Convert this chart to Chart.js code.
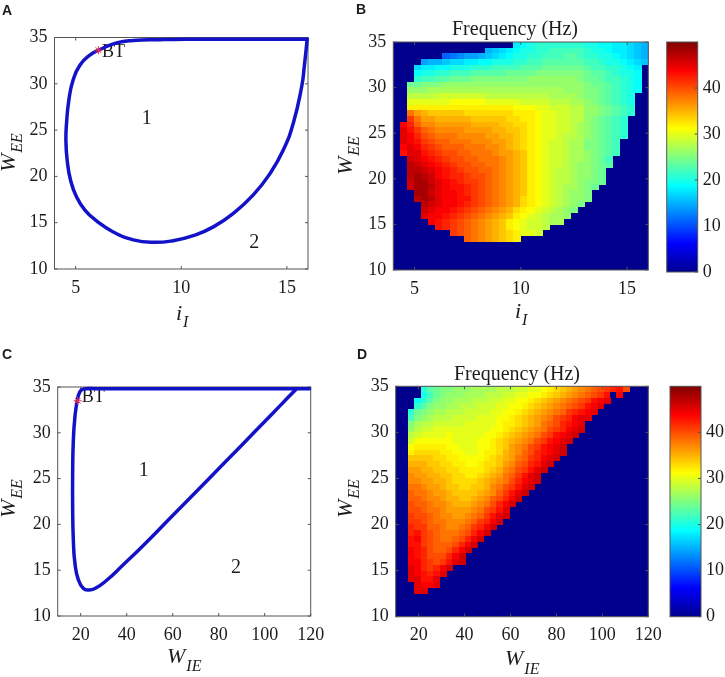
<!DOCTYPE html>
<html>
<head>
<meta charset="utf-8">
<title>Frequency maps</title>
<script src="https://cdn.jsdelivr.net/npm/chart.js@4"></script>
<style>
  html, body { margin: 0; padding: 0; background: #fff; }
  body { position: relative; width: 725px; height: 677px; overflow: hidden; }
  canvas { position: absolute; }
</style>
</head>
<body>
<canvas id="panelA"></canvas>
<canvas id="panelB"></canvas>
<canvas id="barB"></canvas>
<canvas id="panelC"></canvas>
<canvas id="panelD"></canvas>
<canvas id="barD"></canvas>
<script>
// ticks
var iITicks = [5, 10, 15];
var wIETicks = [20, 40, 60, 80, 100, 120];
var wEETicks = [10, 15, 20, 25, 30, 35];
var freqTicks = [0, 10, 20, 30, 40];

// boundary curve, panel A (i_I, W_EE)
var curveAx = [16, 14, 12, 10.5, 9.6, 9, 7.73, 6.94, 6.15, 5.67, 5.2, 4.88, 4.68, 4.57, 4.54, 4.6, 4.76, 5.04, 5.44, 5.99, 6.78, 7.73, 8.67, 9.62, 10.57, 11.52, 12.46, 13.41, 14.2, 14.83, 15.3, 15.7, 15.83, 15.97];
var curveAy = [34.8, 34.8, 34.8, 34.8, 34.79, 34.76, 34.68, 34.42, 33.7, 33.09, 32, 30.4, 28.24, 25.72, 23.92, 21.76, 19.6, 17.8, 16.37, 15.2, 14, 13.15, 12.88, 13.06, 13.6, 14.55, 16, 18, 20.3, 22.84, 25.72, 29.68, 32, 35];

// boundary curve, panel C (W_IE, W_EE)
var curveCx = [120, 90, 60, 35, 26, 22.5, 21.2, 19.7, 18.55, 17.5, 16.8, 16.5, 16.5, 16.8, 17.5, 19, 21.2, 23.3, 26.2, 31.3, 38.5, 47.2, 60, 75, 90, 103, 110, 113.9];
var curveCy = [34.82, 34.82, 34.82, 34.82, 34.82, 34.82, 34.78, 34.5, 33.58, 31.76, 29.2, 25.57, 21.9, 18.3, 15.75, 13.93, 13, 12.84, 13, 13.9, 15.6, 17.7, 20.98, 24.8, 28.65, 32, 33.82, 34.82];

// heatmap grid
var gridRowHeight = 0.625;   // W_EE per row, first row just under 35
var gridColWidthB = 1 / 3;   // i_I per column, from 4
var gridColWidthD = 2.75;    // W_IE per column, from 10

// panel B frequency, first coloured column of each row then its values
var startB = [17, 13, 7, 4, 3, 3, 3, 2, 2, 2, 2, 2, 2, 2, 1, 1, 1, 1, 1, 1, 2, 2, 2, 2, 2, 2, 3, 3, 4, 4, 4, 5, 6, 8, 10];
var freqB = [
  [18,19,20,21,21,21,21,21,21,21,20,20,19,19,18,18,17,16,15],
  [15,16,17,18,19,20,20,21,21,22,22,22,22,22,21,20,20,19,18,18,17,16,15],
  [11,12,13,14,14,15,16,17,18,19,20,20,21,21,22,22,22,23,23,22,21,21,20,20,19,18,17,16,15],
  [14,15,15,16,17,17,18,18,19,19,20,20,20,21,21,22,22,23,23,23,23,23,23,22,22,21,20,20,19,18,17,16],
  [17,18,18,19,19,20,20,20,21,21,21,22,22,22,22,23,23,23,24,24,24,24,24,24,23,22,22,21,21,20,19,18],
  [19,20,20,21,21,22,22,22,23,23,23,23,23,24,24,24,24,25,25,25,25,25,25,25,24,23,23,22,21,20,20,19],
  [21,22,22,23,23,24,24,24,25,25,25,25,25,25,25,25,26,26,26,26,26,26,26,25,24,24,23,22,22,21,20,19],
  [24,24,25,25,25,26,26,26,26,26,26,26,26,26,26,26,26,26,26,26,26,26,26,26,26,25,24,24,23,22,21,20,19],
  [26,26,26,27,27,27,27,27,27,27,27,27,27,27,27,27,27,27,27,27,27,27,26,26,26,25,25,24,23,22,21,20,19],
  [28,28,28,28,29,29,29,29,29,29,29,28,28,28,28,28,28,28,28,28,27,27,27,27,26,25,25,24,23,22,21,20],
  [30,30,30,30,30,30,31,31,31,31,31,30,30,30,30,30,29,29,29,29,28,28,28,27,27,26,25,24,23,22,21,20],
  [32,32,32,32,32,32,32,32,32,32,32,32,32,32,32,31,31,31,30,30,29,29,29,28,28,26,26,25,24,23,22,21],
  [38,36,35,34,34,34,34,34,33,33,33,33,33,33,33,32,32,32,31,30,30,29,29,28,28,26,26,25,24,23,22,21],
  [41,38,36,36,35,35,35,35,35,34,34,34,34,34,33,33,32,32,31,30,30,29,29,28,28,26,25,24,23,22,21],
  [44,42,39,37,37,36,36,36,36,36,35,35,35,35,34,34,33,33,32,31,30,30,29,29,28,27,26,25,24,23,22,21],
  [45,43,41,39,38,37,37,37,37,36,36,36,36,35,35,34,34,33,32,31,30,30,29,29,28,27,26,25,24,23,22,21],
  [45,44,42,40,39,38,38,38,37,37,37,37,36,36,35,35,34,33,32,31,30,30,29,28,28,27,26,25,24,23,22,21],
  [45,44,43,41,40,39,39,38,38,38,37,37,37,36,36,35,34,33,32,31,30,29,29,28,27,27,25,25,24,23,22],
  [44,45,44,42,41,40,39,39,39,38,38,38,37,37,36,35,34,33,32,31,30,29,29,28,27,27,25,25,24,23,22],
  [43,45,45,43,42,41,40,40,39,39,38,38,38,37,36,36,35,34,32,31,30,29,29,28,27,27,26,25,24,23,22],
  [46,45,44,43,42,41,40,40,39,39,38,38,38,37,36,35,34,32,31,30,29,29,28,27,27,26,25,24,22],
  [47,46,45,44,43,42,41,40,40,39,39,38,38,37,36,35,34,32,31,30,29,29,28,27,26,26,25,24,23],
  [47,47,46,45,44,43,42,41,40,40,39,39,38,37,36,35,34,32,31,30,29,28,28,27,26,26,25,24],
  [47,48,47,46,44,43,42,42,41,40,40,39,38,37,36,35,34,32,31,30,29,28,28,27,26,26,25,24],
  [46,48,48,46,45,44,43,42,41,41,40,39,38,37,36,35,34,32,31,30,29,28,28,27,26,25,25,24],
  [46,48,48,47,45,44,43,43,42,41,40,39,38,37,36,35,34,32,31,30,29,28,27,27,26,25,24],
  [48,48,46,45,44,44,43,42,41,40,39,38,37,36,35,34,32,31,30,29,28,27,26,26,25],
  [47,48,47,45,44,44,43,43,41,40,39,38,37,36,35,33,32,31,30,29,28,27,26,26,25],
  [47,46,45,44,44,43,42,41,40,39,38,37,36,35,33,32,31,30,29,28,27,26,25],
  [46,45,44,44,43,42,41,40,39,38,37,36,35,33,32,31,30,29,28,27,26,25],
  [45,44,44,43,42,41,40,39,38,37,36,35,34,32,31,30,29,28,27,27,26],
  [44,43,42,41,40,39,38,37,36,35,34,32,31,30,29,29,28,27,27],
  [43,42,41,40,39,38,37,36,35,34,32,31,30,29,29,28],
  [41,40,39,38,37,36,35,34,33,32,30,30,29],
  [39,38,37,36,35,34,33,32]
];

// panel D frequency
var startD = [4, 4, 3, 3, 2, 2, 2, 2, 2, 2, 2, 2, 2, 2, 2, 2, 2, 2, 2, 2, 2, 2, 2, 2, 2, 2, 2, 2, 2, 2, 2, 2, 2, 2, 3, 3];
var freqD = [
  [21,23,24,25,25,26,26,26,27,27,27,27,28,28,28,29,29,30,30,31,32,33,34,35,36,37,38,39,40,41,42,43,40],
  [20,22,24,25,26,26,26,27,27,27,28,28,28,29,29,30,30,31,31,32,33,34,35,36,37,38,39,40,41,43,0,44],
  [19,21,23,25,26,26,27,27,27,28,28,28,29,29,30,30,31,31,32,33,34,35,36,37,38,39,40,41,43,44,45],
  [21,23,25,26,26,27,27,28,28,28,29,29,29,30,30,31,31,32,33,34,35,36,37,38,39,40,41,43,44,45],
  [21,24,25,26,27,27,28,28,28,29,29,29,29,30,30,31,31,32,33,34,35,36,37,38,39,41,42,43,44,45],
  [22,25,26,27,28,28,28,29,29,29,29,30,30,30,31,31,32,33,34,35,36,37,38,40,41,42,44,45,45],
  [25,27,28,28,29,29,29,29,29,30,30,30,30,30,31,32,32,33,34,35,36,38,39,40,42,43,44,45],
  [26,28,29,29,30,30,30,30,30,30,30,30,30,31,31,32,33,34,35,36,37,38,40,41,42,44,45,46],
  [28,29,30,30,30,30,31,30,30,30,30,30,31,31,32,33,34,35,36,37,38,40,41,43,44,45,46],
  [29,31,31,31,31,31,31,30,30,30,30,31,31,32,33,34,35,36,37,38,40,41,43,44,45,46],
  [31,32,32,32,32,32,31,31,30,30,30,31,31,32,33,34,36,37,38,40,41,43,44,45,46],
  [32,33,33,33,33,32,32,31,31,30,30,31,32,32,33,35,36,37,39,40,42,43,44,45,46],
  [34,34,34,34,33,33,32,32,31,31,31,31,32,33,34,35,36,38,39,41,42,44,45,46],
  [35,35,35,34,34,33,33,32,32,31,31,32,33,33,34,36,37,39,40,42,43,45,46],
  [36,36,35,35,34,34,33,33,32,32,32,32,33,34,35,37,38,40,41,43,45,46],
  [37,36,36,35,35,34,34,33,33,32,32,33,34,35,36,38,39,41,43,45,46],
  [37,37,36,36,35,35,34,33,33,33,33,34,35,36,37,38,40,42,44,45,46],
  [38,38,37,36,36,35,34,34,33,33,34,34,35,37,38,40,41,43,45,46],
  [39,38,38,37,36,36,35,34,34,34,34,35,36,37,39,41,43,45,46],
  [39,39,38,37,37,36,35,35,34,34,35,36,37,39,40,42,44,46],
  [40,39,39,38,37,37,36,35,35,35,36,37,38,40,42,44,46],
  [40,40,39,38,38,37,36,36,36,36,37,38,40,41,43,45],
  [41,40,40,39,38,37,37,36,36,37,38,39,41,43,45,46],
  [41,41,40,39,38,38,37,37,37,38,39,41,42,44,46],
  [42,41,41,39,39,38,37,37,38,39,41,42,44,46],
  [42,43,41,40,39,38,38,38,39,40,42,44,46],
  [43,44,41,40,39,38,38,39,40,42,44,46],
  [43,43,41,40,39,39,39,40,42,44,46],
  [44,43,42,40,39,39,40,42,44,46],
  [44,43,42,40,40,40,42,44,46],
  [44,44,42,41,40,41,43,45,46],
  [45,44,42,41,42,44,46],
  [45,44,43,42,43,45],
  [45,45,43,43,45],
  [45,44,44,45],
  [45,45]
];

var SERIF = '"Liberation Serif", "Times New Roman", serif';
var AXIS_COLOR = '#555';
var TEXT_COLOR = '#1c1c1c';
var ZERO_BLUE = '#00008c';
var jetStops = [[0, '#00008f'], [0.125, '#0000ff'], [0.375, '#00ffff'], [0.625, '#ffff00'], [0.875, '#ff0000'], [1, '#800000']];

function jet(v) {
  if (v === 0) return ZERO_BLUE;
  var t = Math.max(0, Math.min(1, v / 50));
  var r = Math.min(1, Math.max(0, 1.5 - Math.abs(4 * t - 3)));
  var g = Math.min(1, Math.max(0, 1.5 - Math.abs(4 * t - 2)));
  var b = Math.min(1, Math.max(0, 1.5 - Math.abs(4 * t - 1)));
  return 'rgb(' + Math.round(r * 255) + ',' + Math.round(g * 255) + ',' + Math.round(b * 255) + ')';
}

// one small filled canvas per colour, used as the point style of a heat cell
var swatches = {};
function swatch(color, w, h) {
  var key = color + w + 'x' + h;
  if (!swatches[key]) {
    var c = document.createElement('canvas');
    c.width = w;
    c.height = h;
    var g = c.getContext('2d');
    g.fillStyle = color;
    g.fillRect(0, 0, w, h);
    swatches[key] = c;
  }
  return swatches[key];
}

function xyPoints(xs, ys) {
  var pts = [];
  for (var i = 0; i < xs.length; i++) pts.push({x: xs[i], y: ys[i]});
  return pts;
}

function heatPoints(starts, rows, xMin, colWidth) {
  var pts = [];
  for (var r = 0; r < rows.length; r++) {
    for (var c = 0; c < rows[r].length; c++) {
      pts.push({
        x: xMin + (starts[r] + c + 0.5) * colWidth,
        y: 35 - (r + 0.5) * gridRowHeight,
        v: rows[r][c]
      });
    }
  }
  return pts;
}

function place(id, box) {
  var el = document.getElementById(id);
  el.width = box.w;
  el.height = box.h;
  el.style.left = box.l + 'px';
  el.style.top = box.t + 'px';
  return el;
}

function label(ctx, main, sub, x, y, rotated, subDrop) {
  ctx.save();
  ctx.translate(x, y);
  if (rotated) ctx.rotate(-Math.PI / 2);
  ctx.textBaseline = 'alphabetic';
  ctx.textAlign = 'left';
  ctx.fillStyle = TEXT_COLOR;
  ctx.font = 'italic 22px ' + SERIF;
  ctx.fillText(main, 0, 0);
  var w = ctx.measureText(main).width;
  ctx.font = 'italic 16px ' + SERIF;
  ctx.fillText(sub, w + 1, subDrop);
  ctx.restore();
}

function plain(ctx, text, x, y, font, align) {
  ctx.save();
  ctx.font = font;
  ctx.fillStyle = TEXT_COLOR;
  ctx.textAlign = align || 'center';
  ctx.textBaseline = 'alphabetic';
  ctx.fillText(text, x, y);
  ctx.restore();
}

function drawFrame(chart) {
  var a = chart.chartArea, ctx = chart.ctx, xs = chart.scales.x, ys = chart.scales.y;
  ctx.save();
  ctx.strokeStyle = AXIS_COLOR;
  ctx.lineWidth = 1;
  ctx.strokeRect(a.left, a.top, a.right - a.left, a.bottom - a.top);
  ctx.beginPath();
  xs.ticks.forEach(function(t) {
    var p = xs.getPixelForValue(t.value);
    ctx.moveTo(p, a.bottom); ctx.lineTo(p, a.bottom - 3);
    ctx.moveTo(p, a.top); ctx.lineTo(p, a.top + 3);
  });
  ys.ticks.forEach(function(t) {
    var p = ys.getPixelForValue(t.value);
    ctx.moveTo(a.left, p); ctx.lineTo(a.left + 3, p);
    ctx.moveTo(a.right, p); ctx.lineTo(a.right - 3, p);
  });
  ctx.stroke();
  ctx.restore();
}

function axisOptions(lo, hi, tickList, afterFit, padding) {
  return {
    type: 'linear',
    min: lo,
    max: hi,
    afterBuildTicks: function(s) { s.ticks = tickList.map(function(v) { return {value: v}; }); },
    afterFit: afterFit,
    grid: {display: false, drawTicks: false},
    border: {display: false},
    ticks: {
      color: TEXT_COLOR,
      autoSkip: false,
      maxRotation: 0,
      padding: padding,
      font: {family: SERIF, size: 18},
      callback: function(v) { return v; }
    }
  };
}

// p: box (canvas on the page), plot (plot area on the page), x range, x ticks
function makePanel(id, p, datasets, draw) {
  var box = p.box, plot = p.plot;
  var plugin = {
    id: 'panelExtras',
    beforeDatasetsDraw: function(chart) {
      var a = chart.chartArea;
      if (p.heat) {
        chart.ctx.fillStyle = ZERO_BLUE;
        chart.ctx.fillRect(a.left, a.top, a.right - a.left, a.bottom - a.top);
      } else {
        drawFrame(chart);
        if (draw.marks) draw.marks(chart);
      }
    },
    afterDatasetsDraw: function(chart) {
      if (p.heat) drawFrame(chart);
    },
    afterDraw: function(chart) {
      draw.labels(chart.ctx, -box.l, -box.t);
    }
  };
  return new Chart(place(id, box), {
    type: 'scatter',
    data: {datasets: datasets},
    plugins: [plugin],
    options: {
      responsive: false,
      animation: false,
      events: [],
      layout: {
        autoPadding: false,
        padding: {left: 0, top: plot.top - box.t, right: box.l + box.w - plot.right, bottom: 0}
      },
      plugins: {legend: {display: false}, tooltip: {enabled: false}},
      scales: {
        x: axisOptions(p.xMin, p.xMax, p.xTicks, function(s) { s.height = box.t + box.h - plot.bottom; }, 8),
        y: axisOptions(10, 35, wEETicks, function(s) { s.width = plot.left - box.l; }, 7)
      }
    }
  });
}

function curveDatasets(xs, ys, bt) {
  return [
    {
      data: xyPoints(xs, ys),
      showLine: true,
      borderColor: '#1212c8',
      borderWidth: 3.5,
      tension: 0.5,
      pointRadius: 0,
      order: 1,
      clip: false
    },
    {
      data: [bt],
      pointStyle: 'star',
      pointRadius: 4,
      borderColor: '#f0304a',
      borderWidth: 1,
      backgroundColor: '#f0304a',
      order: 0
    }
  ];
}

function heatDataset(points, cellW, cellH) {
  return {
    data: points,
    pointRadius: 1,
    pointStyle: function(ctx) {
      var v = ctx.raw ? ctx.raw.v : 0;
      return swatch(jet(v), cellW, cellH);
    }
  };
}

function makeColorbar(id, box, plot, labelPad) {
  return new Chart(place(id, box), {
    type: 'bar',
    data: {
      labels: ['f'],
      datasets: [{
        data: [[0, 50]],
        barPercentage: 1,
        categoryPercentage: 1,
        backgroundColor: function(ctx) {
          var a = ctx.chart.chartArea;
          if (!a) return '#000';
          var g = ctx.chart.ctx.createLinearGradient(0, a.bottom, 0, a.top);
          jetStops.forEach(function(s) { g.addColorStop(s[0], s[1]); });
          return g;
        }
      }]
    },
    plugins: [{
      id: 'barFrame',
      afterDatasetsDraw: function(chart) {
        var a = chart.chartArea, ctx = chart.ctx, ys = chart.scales.y;
        ctx.save();
        ctx.strokeStyle = AXIS_COLOR;
        ctx.strokeRect(a.left, a.top, a.right - a.left, a.bottom - a.top);
        ctx.beginPath();
        ys.ticks.forEach(function(t) {
          var p = ys.getPixelForValue(t.value);
          ctx.moveTo(a.right, p); ctx.lineTo(a.right - 3, p);
        });
        ctx.stroke();
        ctx.restore();
      }
    }],
    options: {
      responsive: false,
      animation: false,
      events: [],
      layout: {
        autoPadding: false,
        padding: {left: plot.left - box.l, top: plot.top - box.t, right: 0, bottom: box.t + box.h - plot.bottom}
      },
      plugins: {legend: {display: false}, tooltip: {enabled: false}},
      scales: {
        x: {display: false},
        y: {
          position: 'right',
          min: 0,
          max: 50,
          afterBuildTicks: function(s) { s.ticks = freqTicks.map(function(v) { return {value: v}; }); },
          afterFit: function(s) { s.width = box.l + box.w - plot.right; },
          grid: {display: false, drawTicks: false},
          border: {display: false},
          ticks: {
            color: TEXT_COLOR,
            padding: labelPad,
            font: {family: SERIF, size: 18},
            callback: function(v) { return v; }
          }
        }
      }
    }
  });
}

var PANEL_LETTER = 'bold 14px "Liberation Sans", Arial, sans-serif';
var NOTE_FONT = '18px ' + SERIF;
var DIGIT_FONT = '20px ' + SERIF;
var TITLE_FONT = '20px ' + SERIF;

function noteAt(chart, text, x, y, dx) {
  var px = chart.scales.x.getPixelForValue(x) + (dx || 0);
  var py = chart.scales.y.getPixelForValue(y) + 6;
  plain(chart.ctx, text, px, py, dx ? NOTE_FONT : DIGIT_FONT, dx ? 'left' : 'center');
}

makePanel('panelA', {
  box: {l: 0, t: 0, w: 330, h: 338},
  plot: {left: 54.5, right: 308, top: 37.5, bottom: 269},
  xMin: 4, xMax: 16, xTicks: iITicks
}, curveDatasets(curveAx, curveAy, {x: 6.08, y: 33.63}), {
  marks: function(chart) {
    noteAt(chart, 'BT', 6.15, 33.5, 2);
    noteAt(chart, '1', 8.37, 26.26);
    noteAt(chart, '2', 13.46, 12.95);
  },
  labels: function(ctx, ox, oy) {
    plain(ctx, 'A', 2 + ox, 14.5 + oy, PANEL_LETTER, 'left');
    label(ctx, 'W', 'EE', 15 + ox, 172 + oy, true, 7);
    label(ctx, 'i', 'I', 176 + ox, 320 + oy, false, 7);
  }
});

makePanel('panelB', {
  box: {l: 330, t: 0, w: 350, h: 338},
  plot: {left: 393.3, right: 648.3, top: 42, bottom: 270},
  xMin: 4, xMax: 16, xTicks: iITicks, heat: true
}, [heatDataset(heatPoints(startB, freqB, 4, gridColWidthB), 8, 6)], {
  labels: function(ctx, ox, oy) {
    plain(ctx, 'B', 356 + ox, 14 + oy, PANEL_LETTER, 'left');
    plain(ctx, 'Frequency (Hz)', 515 + ox, 35 + oy, TITLE_FONT);
    label(ctx, 'W', 'EE', 352 + ox, 175 + oy, true, 7);
    label(ctx, 'i', 'I', 515 + ox, 318 + oy, false, 7);
  }
});

makeColorbar('barB', {l: 650, t: 0, w: 75, h: 338}, {left: 666.7, right: 697.7, top: 42, bottom: 272}, 5);

makePanel('panelC', {
  box: {l: 0, t: 338, w: 340, h: 339},
  plot: {left: 57.7, right: 310.7, top: 387, bottom: 616},
  xMin: 10, xMax: 120, xTicks: wIETicks
}, curveDatasets(curveCx, curveCy, {x: 18.7, y: 33.5}), {
  marks: function(chart) {
    noteAt(chart, 'BT', 20, 34, 1);
    noteAt(chart, '1', 47.4, 25.9);
    noteAt(chart, '2', 87.5, 15.4);
  },
  labels: function(ctx, ox, oy) {
    plain(ctx, 'C', 2 + ox, 359 + oy, PANEL_LETTER, 'left');
    label(ctx, 'W', 'EE', 15 + ox, 518 + oy, true, 7);
    label(ctx, 'W', 'IE', 167 + ox, 663 + oy, false, 8);
  }
});

makePanel('panelD', {
  box: {l: 330, t: 338, w: 350, h: 339},
  plot: {left: 395.7, right: 648.3, top: 386.3, bottom: 616.7},
  xMin: 10, xMax: 120, xTicks: wIETicks, heat: true
}, [heatDataset(heatPoints(startD, freqD, 10, gridColWidthD), 7, 6)], {
  labels: function(ctx, ox, oy) {
    plain(ctx, 'D', 357 + ox, 359 + oy, PANEL_LETTER, 'left');
    plain(ctx, 'Frequency (Hz)', 517 + ox, 380 + oy, TITLE_FONT);
    label(ctx, 'W', 'EE', 352 + ox, 518 + oy, true, 7);
    label(ctx, 'W', 'IE', 505 + ox, 665 + oy, false, 9);
  }
});

makeColorbar('barD', {l: 650, t: 338, w: 75, h: 339}, {left: 670, right: 701, top: 386.3, bottom: 616.7}, 5);
</script>
</body>
</html>
